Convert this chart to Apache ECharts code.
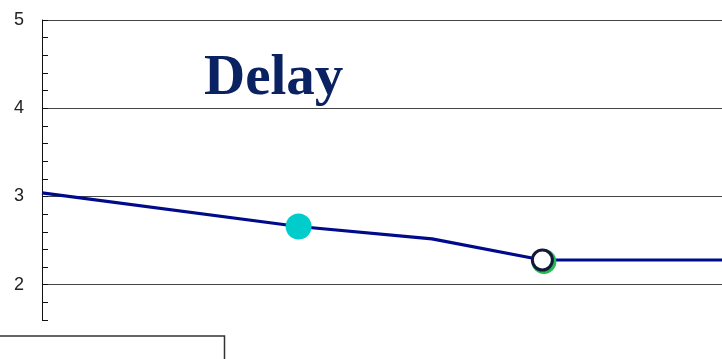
<!DOCTYPE html>
<html>
<head>
<meta charset="utf-8">
<script src="https://cdn.jsdelivr.net/npm/echarts@6/dist/echarts.min.js"></script>
<style>
html, body { margin: 0; padding: 0; background: #fff; }
#chart { width: 722px; height: 359px; }
</style>
</head>
<body>
<div id="chart"></div>
<script>
// delay curve, x in arbitrary time units
const delayX = [0, 10, 15.2, 19.5, 28];
const delayY = [3.04, 2.66, 2.52, 2.28, 2.28];
const cyanIdx = 1;   // filled turquoise marker
const openIdx = 3;   // hollow marker with green rim
const yMin = 1.6;
const yMax = 5;
const xMax = 26.5;

const lineData = delayX.map((x, i) => [x, delayY[i]]);

const chart = echarts.init(document.getElementById('chart'));
chart.setOption({
    animation: false,
    title: {
        text: 'Delay',
        left: 199,
        top: 46,
        textStyle: {
            fontFamily: 'Liberation Serif',
            fontWeight: 'bold',
            fontSize: 57,
            color: '#0b2262'
        }
    },
    grid: { left: 42, right: 0, top: 20, bottom: 39 },
    xAxis: {
        type: 'value',
        min: 0,
        max: xMax,
        show: false
    },
    yAxis: [
        {
            // axis line and small ticks every 0.2
            type: 'value',
            min: yMin,
            max: yMax,
            interval: 0.2,
            axisLine: { show: true, lineStyle: { color: '#111', width: 1 } },
            axisTick: { show: true, inside: true, length: 6, lineStyle: { color: '#111' } },
            axisLabel: { show: false },
            splitLine: { show: false }
        },
        {
            // integer labels and grid lines
            type: 'value',
            position: 'left',
            min: yMin,
            max: yMax,
            splitNumber: 4,
            axisLine: { show: false },
            axisTick: { show: false },
            axisLabel: {
                showMinLabel: false,
                margin: 18,
                fontSize: 18,
                fontFamily: 'Liberation Sans',
                color: '#222'
            },
            splitLine: {
                show: true,
                showMinLine: false,
                lineStyle: { color: '#444', width: 1 }
            }
        }
    ],
    graphic: [{
        type: 'rect',
        shape: { x: -2, y: 336, width: 226.5, height: 40 },
        style: { fill: 'none', stroke: '#333', lineWidth: 1.5 }
    }],
    series: [
        {
            type: 'line',
            yAxisIndex: 0,
            data: lineData,
            symbol: 'none',
            lineStyle: { color: '#000a8a', width: 3.2 },
            z: 2
        },
        {
            type: 'scatter',
            yAxisIndex: 0,
            data: [lineData[cyanIdx]],
            symbolSize: 26,
            itemStyle: { color: '#00cccc', opacity: 1 },
            z: 3
        },
        {
            type: 'scatter',
            yAxisIndex: 0,
            data: [lineData[openIdx]],
            symbolSize: 25,
            symbolOffset: [1.5, 1.5],
            itemStyle: { color: '#22bb55', opacity: 1 },
            z: 3
        },
        {
            type: 'scatter',
            yAxisIndex: 0,
            data: [lineData[openIdx]],
            symbolSize: 20,
            itemStyle: { color: '#fff', borderColor: '#151838', borderWidth: 3, opacity: 1 },
            z: 4
        }
    ]
});
</script>
</body>
</html>
